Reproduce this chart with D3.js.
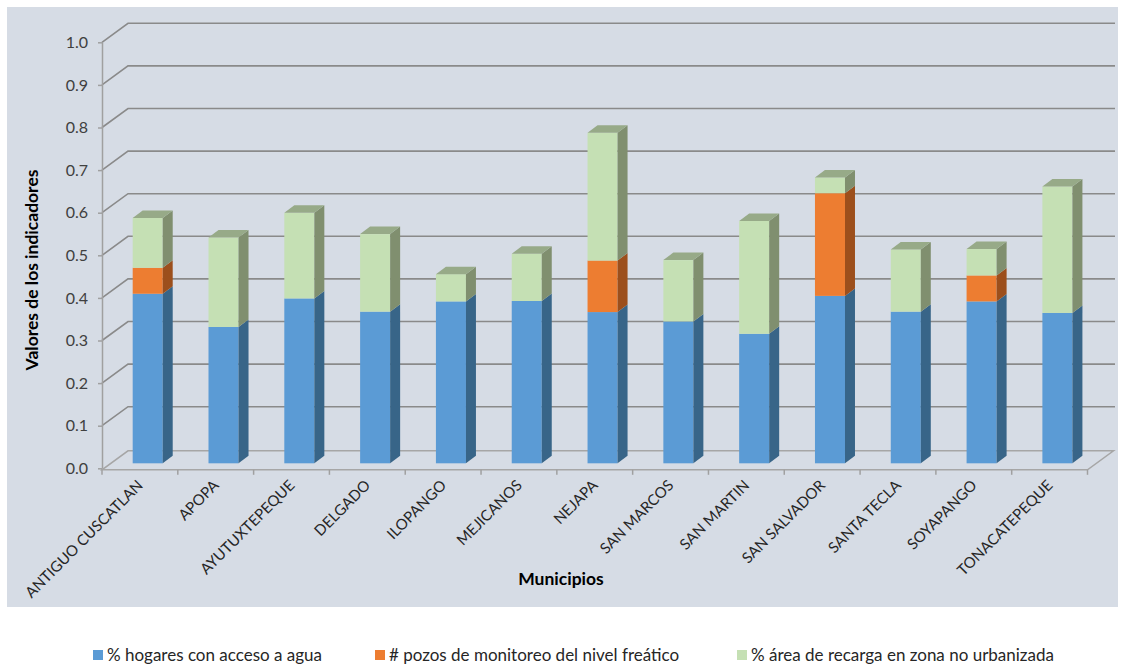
<!DOCTYPE html>
<html>
<head>
<meta charset="utf-8">
<script src="https://cdn.jsdelivr.net/npm/d3@7"></script>
<style>
  html, body { margin: 0; padding: 0; background: #ffffff; }
  svg { display: block; font-family: Lato, "Open Sans", sans-serif; }
</style>
</head>
<body>
<svg id="chart" width="1128" height="668"></svg>
<script>
// Municipios and indicator values (stacked)
const municipios = ["ANTIGUO CUSCATLAN", "APOPA", "AYUTUXTEPEQUE", "DELGADO", "ILOPANGO", "MEJICANOS",
  "NEJAPA", "SAN MARCOS", "SAN MARTIN", "SAN SALVADOR", "SANTA TECLA", "SOYAPANGO", "TONACATEPEQUE"];
const hogaresAgua = [0.398, 0.320, 0.387, 0.356, 0.380, 0.381, 0.355, 0.333, 0.304, 0.393, 0.356, 0.380, 0.353];
const pozosMonitoreo = [0.061, 0, 0, 0, 0, 0, 0.121, 0, 0, 0.241, 0, 0.061, 0];
const areaRecarga = [0.117, 0.210, 0.201, 0.182, 0.064, 0.111, 0.300, 0.144, 0.265, 0.037, 0.146, 0.062, 0.297];
const seriesNames = ["% hogares con acceso a agua", "# pozos de monitoreo del nivel freático", "% área de recarga en zona no urbanizada"];
const yTicks = [0, 0.1, 0.2, 0.3, 0.4, 0.5, 0.6, 0.7, 0.8, 0.9, 1.0];

// face colours per series: front, side, top
const palette = [
  { front: "#5b9bd5", side: "#386588", top: "#6fa6d8" },
  { front: "#ed7d31", side: "#9c4f1c", top: "#f08f4f" },
  { front: "#c5e0b4", side: "#808f6f", top: "#97aa88" }
];

const svg = d3.select("#chart");

// chart area background
svg.append("rect").attr("x", 7).attr("y", 7).attr("width", 1111).attr("height", 600).attr("fill", "#d6dce5");

// 3D geometry
const plotLeft = 102, plotRight = 1087.5;
const depth = { dx: 26, dy: -19 };          // depth of walls
const barOff = { dx: 7.5, dy: -5 };         // bar front plane offset from floor front
const barDepth = { dx: 10, dy: -7.5 };      // bar thickness in depth

const x = d3.scaleBand().domain(municipios).range([plotLeft, plotRight]).paddingInner(0).paddingOuter(0);
const y = d3.scaleLinear().domain([0, 1]).range([468.3, 42.3]);

const gridColor = "#8a8a8a";
const g = svg.append("g");

// floor
const y0 = y(0);
g.append("path")
  .attr("d", `M${plotLeft},${y0 + 1.5} L${plotRight},${y0 + 1.5} L${plotRight + depth.dx},${y0 + 1.5 + depth.dy} L${plotLeft + depth.dx},${y0 + 1.5 + depth.dy} Z`)
  .attr("fill", "none").attr("stroke", "#a6a6a6").attr("stroke-width", 1.5);

// back-wall gridlines with side-wall diagonals
yTicks.forEach(t => {
  if (t === 0) return;
  const yy = y(t);
  g.append("path")
    .attr("d", `M${plotLeft},${yy} L${plotLeft + depth.dx},${yy + depth.dy} L${1115},${yy + depth.dy}`)
    .attr("fill", "none").attr("stroke", gridColor).attr("stroke-width", 1.6);
});

// value axis (front edge of side wall)
const yAxis = d3.axisLeft(y).tickValues(yTicks).tickFormat(d3.format(".1f")).tickSize(4).tickSizeOuter(0).tickPadding(10);
const ya = svg.append("g").attr("transform", `translate(${plotLeft},0)`).call(yAxis);
ya.select(".domain").attr("stroke", "#a0a0a0").attr("stroke-width", 1.5);
ya.selectAll(".tick line").attr("stroke", "#a0a0a0").attr("stroke-width", 1.5);
ya.selectAll(".tick text").attr("font-size", 16).attr("fill", "#404040").attr("font-family", "Lato, sans-serif");

// category ticks at band boundaries
const bounds = municipios.map(m => x(m)).concat([plotRight]);
svg.append("g").selectAll("line").data(bounds).join("line")
  .attr("x1", d => d).attr("x2", d => d)
  .attr("y1", y0 + 1.5).attr("y2", y0 + 6.5)
  .attr("stroke", "#a0a0a0").attr("stroke-width", 1.5);

// stacked 3D bars
const stackData = municipios.map((m, i) => ({ m, s0: hogaresAgua[i], s1: pozosMonitoreo[i], s2: areaRecarga[i] }));
const stacked = d3.stack().keys(["s0", "s1", "s2"])(stackData);
const bw = x.bandwidth() * 0.396;
const bx0 = x.bandwidth() * 0.306;

const bars = svg.append("g");
municipios.forEach((m, i) => {
  const left = x(m) + bx0 + barOff.dx;
  const right = left + bw;
  // topmost non-empty segment gets the top face
  let topIdx = -1;
  stacked.forEach((s, k) => { if (s[i][1] - s[i][0] > 0) topIdx = k; });
  stacked.forEach((s, k) => {
    const v0 = s[i][0], v1 = s[i][1];
    if (v1 - v0 <= 0) return;
    const yb = y(v0) + barOff.dy, yt = y(v1) + barOff.dy;
    const c = palette[k];
    bars.append("rect")
      .attr("x", left).attr("y", yt).attr("width", bw).attr("height", yb - yt)
      .attr("fill", c.front);
    bars.append("path")
      .attr("d", `M${right},${yb} L${right + barDepth.dx},${yb + barDepth.dy} L${right + barDepth.dx},${yt + barDepth.dy} L${right},${yt} Z`)
      .attr("fill", c.side);
    if (k === topIdx) {
      bars.append("path")
        .attr("d", `M${left},${yt} L${right},${yt} L${right + barDepth.dx},${yt + barDepth.dy} L${left + barDepth.dx},${yt + barDepth.dy} Z`)
        .attr("fill", c.top);
    }
  });
});

// category labels, rotated
svg.append("g").selectAll("text").data(municipios).join("text")
  .attr("transform", d => `translate(${x(d) + x.bandwidth() / 2 + 4},${y0 + 18}) rotate(-45)`)
  .attr("text-anchor", "end")
  .attr("font-size", 15)
  .attr("fill", "#262626")
  .text(d => d);

// axis titles
svg.append("text")
  .attr("transform", `translate(38,270) rotate(-90)`)
  .attr("text-anchor", "middle").attr("font-size", 17.5).attr("font-weight", "bold").attr("fill", "#000")
  .text("Valores de los indicadores");
svg.append("text")
  .attr("x", 561).attr("y", 585)
  .attr("text-anchor", "middle").attr("font-size", 17.5).attr("font-weight", "bold").attr("fill", "#000")
  .text("Municipios");

// legend
const legendX = [93, 375, 737];
const legend = svg.append("g").selectAll("g").data(seriesNames).join("g")
  .attr("transform", (d, i) => `translate(${legendX[i]},655)`);
legend.append("rect").attr("x", 0).attr("y", -5).attr("width", 10).attr("height", 10)
  .attr("fill", (d, i) => palette[i].front);
legend.append("text").attr("x", 14).attr("y", 6).attr("font-size", 17).attr("fill", "#262626").text(d => d);
</script>
</body>
</html>
